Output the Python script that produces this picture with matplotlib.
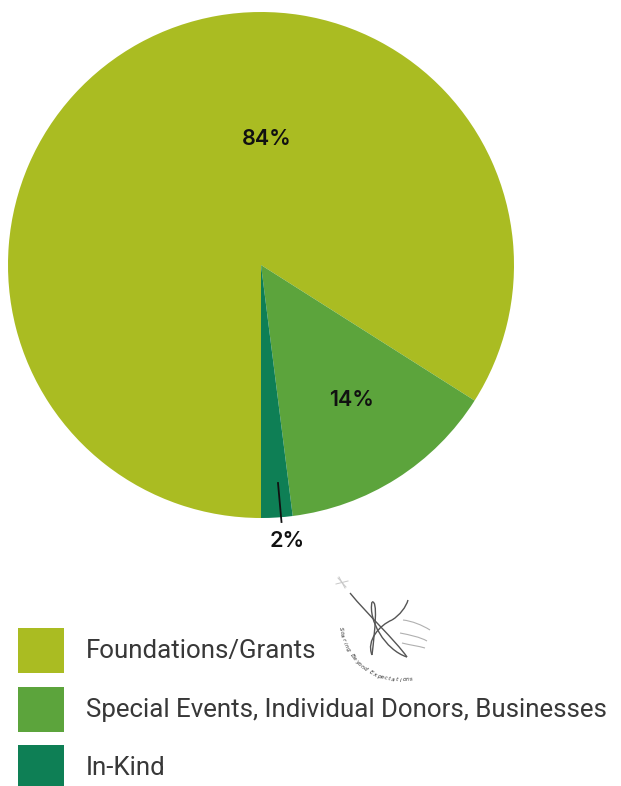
import numpy as np
import matplotlib
matplotlib.use("Agg")
import matplotlib.pyplot as plt
from matplotlib.patches import Rectangle, PathPatch
from matplotlib.path import Path

categories = ["Foundations/Grants", "Special Events, Individual Donors, Businesses", "In-Kind"]
values = [84, 14, 2]
pct_labels = ["84%", "14%", "2%"]
colors = ["#aabc22", "#5ca43c", "#0e7f55"]

W, H = 621, 786
fig = plt.figure(figsize=(W / 100, H / 100), dpi=100)
ax = fig.add_axes([0, 0, 1, 1])

cx, cy, r = 261, H - 265, 253
wedges, _ = ax.pie(values, colors=colors, startangle=270, counterclock=False,
                   center=(cx, cy), radius=r, wedgeprops=dict(linewidth=0))
ax.set_xlim(0, W)
ax.set_ylim(0, H)
ax.set_aspect("equal")
ax.axis("off")

lab_font = dict(family=["Inter", "DejaVu Sans"], fontsize=15.5, fontweight="semibold", color="#111111",
                ha="center", va="center")
ax.text(267, H - 139, pct_labels[0], **lab_font)
ax.text(352, H - 400, pct_labels[1], **lab_font)
ax.text(287, H - 541, pct_labels[2], **lab_font)
ax.plot([278, 281.5], [H - 483, H - 522], color="#111111", lw=1.3)

# legend
sq_y = [628, 687, 745]
for yy, c, name in zip(sq_y, colors, categories):
    ax.add_patch(Rectangle((18, H - yy - 45), 46, 45, facecolor=c, edgecolor="none"))
    ax.text(86, H - yy - 23, name, family=["Roboto", "DejaVu Sans"], fontsize=18.6,
            fontweight="normal", color="#383838", ha="left", va="center")

# faint logo sketch
def curve(pts, color="#555555", lw=1.0):
    verts = [(x, H - y) for x, y in pts]
    codes = [Path.MOVETO] + [Path.CURVE4] * (len(pts) - 1)
    ax.add_patch(PathPatch(Path(verts, codes), facecolor="none", edgecolor=color, lw=lw))

ax.plot([339, 345], [H - 577, H - 588], color="#c8c8c8", lw=0.7)
ax.plot([336, 348], [H - 584, H - 581], color="#c8c8c8", lw=0.7)
ax.plot([338, 346], [H - 578, H - 587], color="#c8c8c8", lw=0.7)
curve([(350, 593), (368, 615), (395, 640), (407, 657)])
curve([(407, 657), (385, 650), (368, 620), (372, 602)])
curve([(372, 602), (378, 600), (375, 630), (372, 655)])
curve([(372, 655), (366, 640), (380, 625), (392, 620)])
curve([(392, 620), (400, 615), (406, 607), (408, 600)])
curve([(403, 620), (412, 621), (422, 625), (430, 630)], color="#b0b0b0", lw=0.8)
curve([(400, 633), (410, 635), (420, 637), (427, 641)], color="#b0b0b0", lw=0.8)
curve([(402, 643), (410, 645), (418, 646), (425, 648)], color="#b0b0b0", lw=0.8)

logo_text = "Soaring Beyond Expectations"
lc = (400, H - 620)
lr = 60
angs = np.linspace(np.radians(188), np.radians(281), len(logo_text))
for ch, a in zip(logo_text, angs):
    x = lc[0] + lr * np.cos(a)
    y = lc[1] + lr * np.sin(a)
    ax.text(x, y, ch, fontsize=4.2, style="italic", color="#333333",
            rotation=np.degrees(a) + 90 - 360, rotation_mode="anchor", ha="center", va="center")

fig.savefig("out.png", dpi=100, facecolor="white")
